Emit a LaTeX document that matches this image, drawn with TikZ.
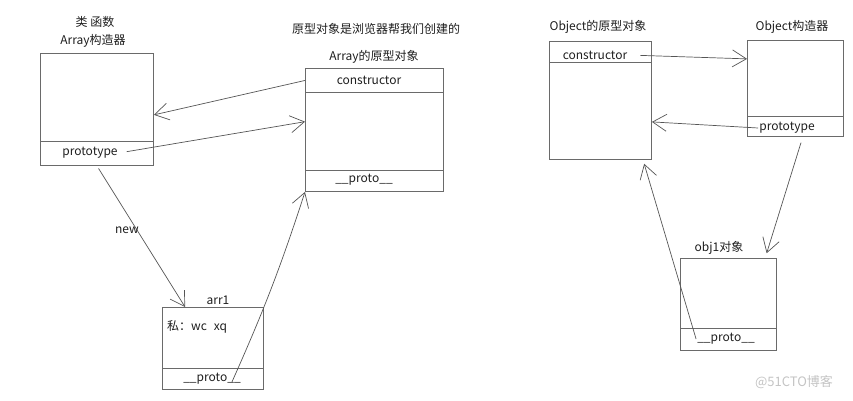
\documentclass[tikz,border=0pt]{standalone}
\usepackage{fontspec}
\setmainfont{Noto Sans CJK SC}
\usetikzlibrary{arrows.meta}
\definecolor{cline}{HTML}{555555}
\definecolor{cbox}{HTML}{6A6A6A}
\definecolor{ctext}{HTML}{1E1E1E}
\definecolor{cmark}{HTML}{C4C4C4}
\tikzset{>={Straight Barb[length=14pt,width=17pt]},
  cell/.style={draw=cbox,line width=0.9pt,inner sep=0pt,anchor=north west},
  txt/.style={text=ctext,font=\fontsize{12}{14}\selectfont,inner sep=1pt},
  lnk/.style={cline,line width=0.7pt,->}}

\begin{document}
\begin{tikzpicture}[x=1pt,y=-1pt]
\useasboundingbox (0,0) rectangle (853,400);

% ===== Array constructor =====
\node[txt] (atitle1) at (95,22) {类 函数};
\node[txt] (atitle2) at (93,41) {Array构造器};
\node[cell,minimum width=113pt,minimum height=88pt] (abody) at (40,53) {};
\node[cell,minimum width=113pt,minimum height=24pt] (aproto) at (40,141) {};
\node[txt] (aptxt) at (90,153) {prototype};

% ===== Array prototype object =====
\node[txt] (bnote) at (376,29) {原型对象是浏览器帮我们创建的};
\node[txt] (btitle) at (374,57) {Array的原型对象};
\node[cell,minimum width=138pt,minimum height=24pt] (bctor) at (305,68) {};
\node[cell,minimum width=138pt,minimum height=78pt] (bbody) at (305,92) {};
\node[cell,minimum width=138pt,minimum height=21pt] (bproto) at (305,170) {};
\node[txt] (bctxt) at (369,80) {constructor};
\node[txt] (bptxt) at (364,180) {\_\_proto\_\_};

% ===== instance arr1 =====
\node[txt] (ctitle) at (218,300) {arr1};
\node[cell,minimum width=101pt,minimum height=61pt] (cbody) at (162,307) {};
\node[cell,minimum width=101pt,minimum height=21pt] (cproto) at (162,368) {};
\node[txt,anchor=west] (cbtxt) at (166,327) {私：wc\hspace{7pt}xq};
\node[txt] (cptxt) at (212,379) {\_\_proto\_\_};

% ===== Object prototype object =====
\node[txt] (dtitle) at (598,27) {Object的原型对象};
\node[cell,minimum width=102pt,minimum height=21pt] (dctor) at (549,41) {};
\node[cell,minimum width=102pt,minimum height=97pt] (dbody) at (549,62) {};
\node[txt] (dctxt) at (595,55) {constructor};

% ===== Object constructor =====
\node[txt] (etitle) at (792,27) {Object构造器};
\node[cell,minimum width=96pt,minimum height=76pt] (ebody) at (747,40) {};
\node[cell,minimum width=96pt,minimum height=20pt] (eproto) at (747,116) {};
\node[txt] (eptxt) at (787,128) {prototype};

% ===== instance obj1 =====
\node[txt] (ftitle) at (719,248) {obj1对象};
\node[cell,minimum width=96pt,minimum height=70pt] (fbody) at (680,258) {};
\node[cell,minimum width=96pt,minimum height=22pt] (fproto) at (680,328) {};
\node[txt] (fptxt) at (726,339) {\_\_proto\_\_};

% links
\draw[lnk] (bctor.west) -- (abody.-17);
\draw[lnk,shorten <=8pt] (aptxt.east) -- (bbody.172);
\draw[lnk,shorten <=3pt] (aproto.south) -- (cbody.132);
\node[txt] (newlbl) at (127,230) {new};
\draw[lnk] ([xshift=-10pt,yshift=-3pt]cptxt.east) to[bend right=3] (bproto.south west);
\draw[lnk,shorten <=12pt] (dctxt.east) -- (ebody.158);
\draw[lnk] (eptxt.west) -- (dbody.-12);
\draw[lnk,shorten <=6pt,shorten >=5pt] (eproto.-55) -- (fbody.44);
\draw[lnk,shorten >=4pt] (fptxt.west) -- (dbody.-49);

\node[text=cmark,font=\fontsize{13}{15}\selectfont] (mark) at (794,382) {@51CTO博客};
\end{tikzpicture}
\end{document}
